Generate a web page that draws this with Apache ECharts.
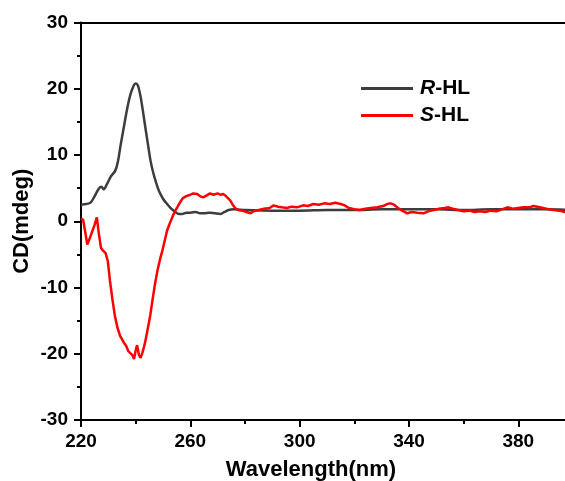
<!DOCTYPE html>
<html>
<head>
<meta charset="utf-8">
<script src="https://cdn.jsdelivr.net/npm/echarts@6/dist/echarts.min.js"></script>
<style>
html,body{margin:0;padding:0;background:#fff;}
#chart{width:565px;height:481px;}
</style>
</head>
<body>
<div id="chart"></div>
<script>
// Wavelength (nm) and CD (mdeg)
const rWave = [220,222,223.5,225,226.5,227.5,228.3,229.5,231,232.5,233.5,234.5,235.5,236.8,238,239.3,240,240.8,241.8,242.7,243.6,244.5,245.5,246.5,247.5,248.5,250,251.5,253,254.5,255.8,257,258.5,260,262,263.5,265,267,269,271,272.5,274,276,280,290,300,310,320,330,340,350,360,370,380,390,400];
const rCD = [2.5,2.6,2.8,3.8,4.9,5.2,4.8,5.6,6.8,7.6,9.0,11.5,13.8,16.8,19.0,20.5,20.8,20.5,18.8,16.5,14.0,11.6,9.0,7.2,5.8,4.6,3.4,2.6,1.9,1.4,1.1,1.1,1.3,1.3,1.4,1.2,1.2,1.3,1.2,1.1,1.4,1.7,1.8,1.7,1.6,1.6,1.7,1.7,1.8,1.8,1.8,1.7,1.8,1.8,1.8,1.7];

const sWave = [220,220.8,221.5,222.3,223,223.7,224.4,225,225.8,226.5,227.3,228,229,229.8,230.6,231.5,232.4,233.3,234.3,235,235.8,236.5,237.3,238,238.8,239.4,240,240.5,241.2,241.8,242.5,243.4,244.3,245.3,246.2,247.1,248,249,249.8,250.7,251.5,252.5,253.7,254.5,255.2,256.3,257.3,258.5,260,261,262.5,263.5,264.7,266,267.2,268.5,270,271,272,273,274.5,275.5,276.4,277.5,279,280.5,282,283.5,285,287,289,290.5,292,293.5,295.4,297,299,301.3,303,305,307,309,311,313,315,316.5,318,320,322,324,326,328.4,330.5,332,333.3,334.5,336,337.5,339.4,341,343,345.3,347,349,351,353,354.5,356,358,360,362,364,366,368,370,372,374,376,378,380,382,384,385.5,387,389,391,393,395,397,399];
const sCD = [0.4,0.2,-1.5,-3.5,-2.8,-2.0,-1.9,-0.5,0.6,-1.8,-4.0,-4.4,-4.8,-6.0,-9.0,-11.8,-14.3,-16.0,-17.3,-17.0,-18.4,-18.8,-19.6,-19.3,-20.2,-20.8,-19.5,-18.7,-20.2,-20.6,-19.8,-18.4,-16.5,-14.3,-11.8,-9.4,-7.4,-5.6,-4.4,-2.8,-1.4,-0.3,0.9,1.6,2.1,2.9,3.5,3.8,4.0,4.2,4.1,3.8,3.6,3.9,4.2,4.0,4.2,4.0,4.1,3.8,3.2,2.5,2.0,1.7,1.6,1.4,1.2,1.6,1.7,1.9,2.0,2.4,2.2,2.1,2.0,2.2,2.1,2.4,2.3,2.6,2.5,2.7,2.6,2.8,2.6,2.4,2.0,1.8,1.7,1.9,2.0,2.1,2.3,2.6,2.7,2.5,2.0,1.6,1.2,1.4,1.3,1.2,1.5,1.7,1.9,2.0,2.1,1.9,1.7,1.5,1.6,1.4,1.5,1.4,1.6,1.5,1.8,2.1,1.9,2.0,2.1,2.1,2.3,2.2,2.0,1.8,1.7,1.6,1.4,1.6];

const xTicks = [220,260,300,340,380];
const yTicks = [-30,-20,-10,0,10,20,30];
const seriesNames = ['R-HL','S-HL'];

const pair = (xs, ys) => xs.map((x, i) => [x, ys[i]]);
const FONT = 'Liberation Sans, Arial, sans-serif';

const chart = echarts.init(document.getElementById('chart'));
chart.setOption({
  animation: false,
  backgroundColor: '#fff',
  grid: {left: 81, top: 22.5, bottom: 61, right: -8, containLabel: false, outerBoundsMode: 'none'},
  legend: {
    orient: 'vertical', left: 361, top: 78, padding: 0,
    icon: 'rect', itemWidth: 52, itemHeight: 3, itemGap: 6,
    data: seriesNames,
    formatter: n => '{i|' + n.charAt(0) + '}{b|' + n.slice(1) + '}',
    textStyle: {
      padding: [0,0,0,2],
      rich: {
        i: {fontStyle: 'italic', fontWeight: 'bold', fontSize: 21, lineHeight: 22, fontFamily: FONT, color: '#000'},
        b: {fontWeight: 'bold', fontSize: 21, lineHeight: 22, fontFamily: FONT, color: '#000'}
      }
    }
  },
  xAxis: [{
    type: 'value', min: 220, max: 400, interval: 40,
    name: 'Wavelength(nm)', nameLocation: 'middle', nameGap: 39, nameMoveOverlap: false,
    nameTextStyle: {fontSize: 22, fontWeight: 'bold', fontFamily: FONT, color: '#000', padding: [0, 32, 0, 0]},
    axisLine: {show: true, onZero: false, lineStyle: {color: '#000', width: 2}},
    axisTick: {show: true, inside: false, length: 7, lineStyle: {color: '#000', width: 2}},
    minorTick: {show: true, splitNumber: 2, length: 4, lineStyle: {color: '#000', width: 2}},
    splitLine: {show: false},
    axisLabel: {
      fontSize: 19, fontWeight: 'bold', fontFamily: FONT, color: '#000', margin: 12,
      showMaxLabel: false,
      formatter: v => xTicks.includes(v) ? String(v) : ''
    }
  }, {
    type: 'value', min: 220, max: 400, position: 'top',
    axisLine: {show: true, onZero: false, lineStyle: {color: '#000', width: 2}},
    axisTick: {show: false}, axisLabel: {show: false}, splitLine: {show: false}
  }],
  yAxis: {
    type: 'value', min: -30, max: 30, interval: 10,
    name: 'CD(mdeg)', nameLocation: 'middle', nameGap: 48, nameMoveOverlap: false,
    nameTextStyle: {fontSize: 22, fontWeight: 'bold', fontFamily: FONT, color: '#000'},
    axisLine: {show: true, onZero: false, lineStyle: {color: '#000', width: 2}},
    axisTick: {show: true, inside: false, length: 7, lineStyle: {color: '#000', width: 2}},
    minorTick: {show: true, splitNumber: 2, length: 4, lineStyle: {color: '#000', width: 2}},
    splitLine: {show: false},
    axisLabel: {
      fontSize: 19, fontWeight: 'bold', fontFamily: FONT, color: '#000', margin: 13,
      formatter: v => yTicks.includes(v) ? String(v) : ''
    }
  },
  series: [{
    name: seriesNames[0], type: 'line', data: pair(rWave, rCD),
    symbol: 'none', smooth: 0.3,
    lineStyle: {color: '#3d3d3d', width: 2.5}, itemStyle: {color: '#3d3d3d'}
  }, {
    name: seriesNames[1], type: 'line', data: pair(sWave, sCD),
    symbol: 'none', smooth: false,
    lineStyle: {color: '#ff0000', width: 2.5}, itemStyle: {color: '#ff0000'}
  }]
});
</script>
</body>
</html>
